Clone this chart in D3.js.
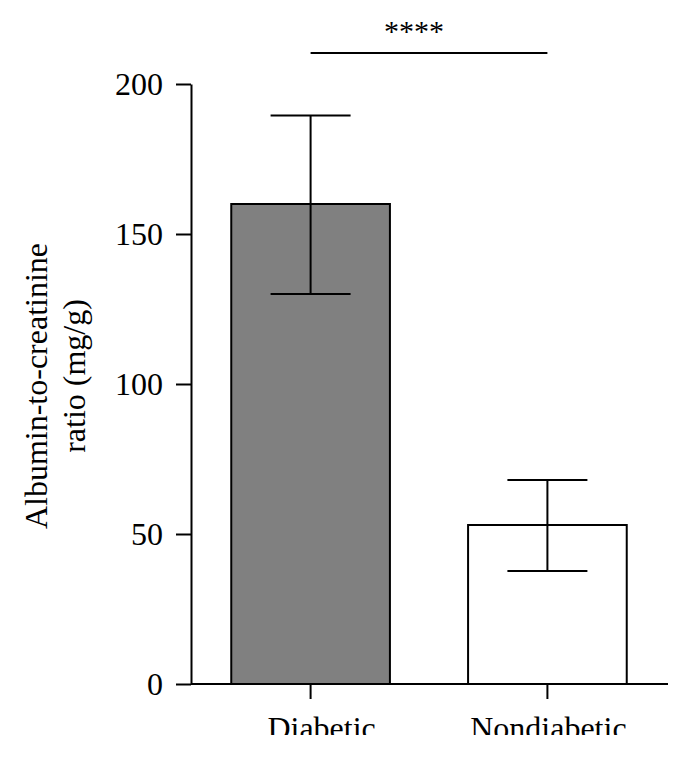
<!DOCTYPE html>
<html>
<head>
<meta charset="utf-8">
<script src="https://cdn.jsdelivr.net/npm/d3@7"></script>
<style>
  body { margin: 0; background: #fff; }
  svg text { font-family: "Liberation Serif", "Times New Roman", serif; fill: #000; }
</style>
</head>
<body>
<div id="chart"></div>
<script>
var w = 689;
var h = 757;

var categories = ["Diabetic", "Nondiabetic"];
var means = [160, 53];
var errHigh = [189.5, 68];
var errLow = [130, 37.7];
var yTicks = [0, 50, 100, 150, 200];
var sigLabel = "****";

var svg = d3.select("#chart")
            .append("svg")
            .attr("width", w)
            .attr("height", h);

svg.append("rect").attr("width", w).attr("height", h).attr("fill", "#fff");

//scales
var xScale = d3.scaleBand()
               .domain(categories)
               .range([191, 667])
               .paddingInner(0.33)
               .paddingOuter(0.17);

var yScale = d3.scaleLinear()
               .domain([0, 200])
               .range([684, 84]);

//bars
svg.selectAll("rect.bar")
   .data(categories)
   .enter()
   .append("rect")
   .attr("class", "bar")
   .attr("x", function(d) { return xScale(d); })
   .attr("y", function(d, i) { return yScale(means[i]); })
   .attr("width", xScale.bandwidth())
   .attr("height", function(d, i) { return yScale(0) - yScale(means[i]); })
   .attr("fill", function(d, i) { return i === 0 ? "#808080" : "#ffffff"; })
   .attr("stroke", "#000")
   .attr("stroke-width", 2);

//error bars
var capHalf = 40;
var err = svg.selectAll("g.err")
   .data(categories)
   .enter()
   .append("g")
   .attr("class", "err")
   .attr("stroke", "#000")
   .attr("stroke-width", 2);

err.append("line")
   .attr("x1", function(d) { return xScale(d) + xScale.bandwidth() / 2; })
   .attr("x2", function(d) { return xScale(d) + xScale.bandwidth() / 2; })
   .attr("y1", function(d, i) { return yScale(errHigh[i]); })
   .attr("y2", function(d, i) { return yScale(errLow[i]); });

err.append("line")
   .attr("x1", function(d) { return xScale(d) + xScale.bandwidth() / 2 - capHalf; })
   .attr("x2", function(d) { return xScale(d) + xScale.bandwidth() / 2 + capHalf; })
   .attr("y1", function(d, i) { return yScale(errHigh[i]); })
   .attr("y2", function(d, i) { return yScale(errHigh[i]); });

err.append("line")
   .attr("x1", function(d) { return xScale(d) + xScale.bandwidth() / 2 - capHalf; })
   .attr("x2", function(d) { return xScale(d) + xScale.bandwidth() / 2 + capHalf; })
   .attr("y1", function(d, i) { return yScale(errLow[i]); })
   .attr("y2", function(d, i) { return yScale(errLow[i]); });

//Y axis
var yAxis = d3.axisLeft(yScale)
              .tickValues(yTicks)
              .tickSize(15)
              .tickSizeOuter(0)
              .tickPadding(13);

var gy = svg.append("g")
    .attr("class", "y axis")
    .attr("transform", "translate(191,0)")
    .call(yAxis);
gy.selectAll("path, line").attr("stroke", "#000").attr("stroke-width", 2);
gy.selectAll("text").attr("font-size", 32).attr("font-family", null).attr("dy", "0.34em");

//X axis
var xAxis = d3.axisBottom(xScale)
              .tickSize(15)
              .tickSizeOuter(0)
              .tickFormat("");

var gx = svg.append("g")
    .attr("class", "x axis")
    .attr("transform", "translate(0,684)")
    .call(xAxis);
gx.select(".domain").attr("d", "M191,0H668");
gx.selectAll("path, line").attr("stroke", "#000").attr("stroke-width", 2);

//category labels, cut off at the bottom like the original
svg.append("clipPath")
   .attr("id", "labelClip")
   .append("rect")
   .attr("x", 0).attr("y", 700).attr("width", w).attr("height", 35);

svg.append("g")
   .attr("clip-path", "url(#labelClip)")
   .selectAll("text")
   .data(categories)
   .enter()
   .append("text")
   .attr("x", function(d, i) { return xScale(d) + xScale.bandwidth() / 2 + (i === 0 ? 11 : 1); })
   .attr("y", 739)
   .attr("text-anchor", "middle")
   .attr("font-size", 32)
   .text(function(d) { return d; });

//y label
svg.append("text")
   .attr("transform", "translate(47,386) rotate(-90)")
   .attr("text-anchor", "middle")
   .attr("font-size", 32)
   .text("Albumin-to-creatinine");

svg.append("text")
   .attr("transform", "translate(85,376) rotate(-90)")
   .attr("text-anchor", "middle")
   .attr("font-size", 32)
   .text("ratio (mg/g)");

//significance
var c1 = xScale(categories[0]) + xScale.bandwidth() / 2;
var c2 = xScale(categories[1]) + xScale.bandwidth() / 2;

svg.append("line")
   .attr("x1", c1)
   .attr("x2", c2)
   .attr("y1", 53)
   .attr("y2", 53)
   .attr("stroke", "#000")
   .attr("stroke-width", 2);

svg.append("text")
   .attr("x", (c1 + c2) / 2 - 15)
   .attr("y", 41)
   .attr("text-anchor", "middle")
   .attr("font-size", 30)
   .text(sigLabel);
</script>
</body>
</html>
